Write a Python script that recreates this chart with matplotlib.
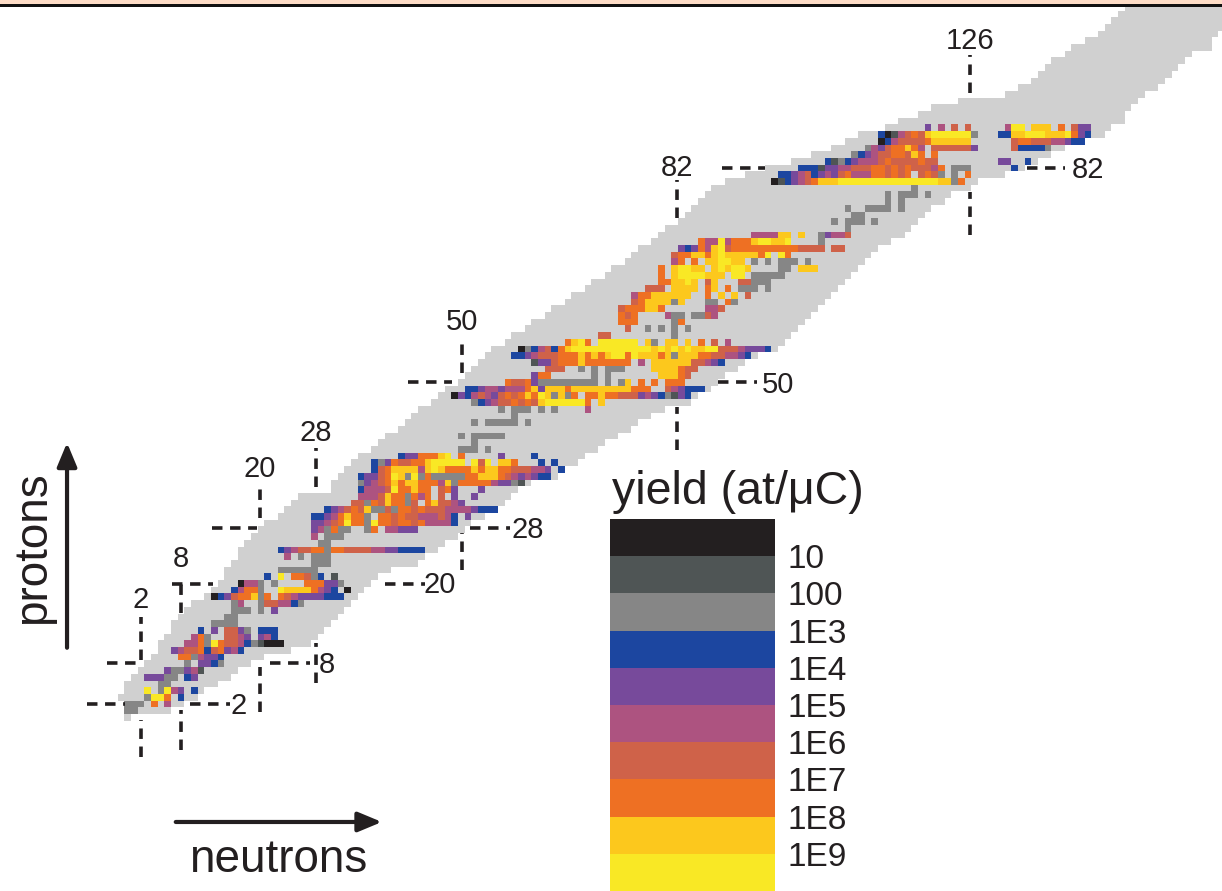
import numpy as np
import matplotlib
matplotlib.use("Agg")
import matplotlib.pyplot as plt
from matplotlib.colors import ListedColormap
from matplotlib.patches import Rectangle

plt.rcParams['font.family'] = ['Liberation Sans', 'DejaVu Sans']

TEXT = '#231f20'
# colour per yield level, code 0 (black) to 9 (yellow)
COLORES = ['#231f20', '#4f5555', '#868686', '#1c46a0', '#774a9b',
           '#ad5380', '#cf6249', '#ee7023', '#fcc81d', '#f9e825']
BANDA = '#d0d0d0'
ETIQUETAS = ['10', '100', '1E3', '1E4', '1E5', '1E6', '1E7', '1E8', '1E9']

# band of known nuclides: first and last neutron number for Z = 0, 1, 2, ...
BANDA_NMIN = [0, 0, 0, -1, 0, 0, 1, 2, 3, 4, 5, 5, 6, 7, 7, 8, 9, 10, 12, 13, 14, 15, 15, 16, 17, 17,
              18, 19, 20, 21, 23, 24, 25, 26, 31, 31, 32, 33, 34, 35, 37, 38, 39, 41, 42, 43, 44, 46,
              47, 48, 50, 51, 52, 53, 54, 55, 57, 58, 60, 61, 63, 64, 66, 67, 69, 70, 72, 73, 75, 76,
              77, 79, 80, 81, 83, 84, 85, 86, 87, 88, 90, 93, 96, 100, 103, 106, 108, 110, 114, 116,
              119, 121, 125, 132, 134, 136, 137, 138, 139, 141, 142, 144, 146, 147, 148, 149, 150]
BANDA_NMAX = [0, 6, 8, 10, 11, 13, 15, 16, 18, 20, 24, 27, 28, 29, 30, 31, 32, 33, 34, 35, 36, 37, 39,
              43, 44, 46, 47, 49, 50, 51, 53, 55, 56, 57, 58, 60, 64, 65, 67, 68, 70, 71, 73, 75, 76,
              78, 80, 84, 85, 87, 88, 89, 91, 92, 94, 97, 98, 99, 100, 101, 102, 103, 104, 105, 106,
              107, 108, 109, 110, 111, 112, 114, 116, 117, 118, 119, 120, 122, 123, 126, 127, 131, 134,
              136, 138, 140, 143, 146, 147, 149, 149, 150, 151, 152, 154, 155, 156, 157, 158, 159, 162,
              162, 163, 165, 165, 165, 165]

# measured cells: (Z, first N, level codes per cell, '.' = nothing)
CELDAS = [
    (88, 120, "4.5.6.6"), (88, 132, "599.888.7.644"),
    (87, 113, "301567689999992"), (87, 131, "33889998889743"),
    (86, 113, "03566667888888"), (86, 133, "67766655433"),
    (85, 111, "254677875.6666664"), (85, 133, "633332"),
    (84, 109, "23456677687.7"),
    (83, 105, "31234555676666766"), (83, 131, "44..3"),
    (82, 101, "3331445566677676766657.222"), (82, 133, "3"),
    (81, 98, "33456345467555776767.6762.2.7"),
    (80, 97, "01345678889999999999999998827"),
    (79, 118, "2"), (78, 114, "2.222.2"), (77, 114, "2.2"), (76, 108, "2..2222.2"),
    (75, 109, "22"), (74, 106, "2.222.2"), (73, 108, "2"),
    (72, 94, "555588.8..24556"),
    (71, 86, "75595777899889....2"),
    (70, 83, "434758967777777777" + "6666.66"),
    (69, 82, "677887898888879.97"),
    (68, 82, "57.7.889988.2.2.222.2"),
    (67, 80, "7.89988.898998....22.888"),
    (66, 80, "7.89999888.99.22222"),
    (65, 80, "778898.68...66222"),
    (64, 78, "666.8888.78.7.222.2"),
    (63, 76, "577888888..7.8.8.6"),
    (62, 76, "67888828...22.72"),
    (61, 74, "6777887......556"),
    (60, 74, "767....522.2265"),
    (59, 74, "777.....27"),
    (58, 75, "6"), (58, 78, "2.2.2.2"),
    (57, 71, "66"), (57, 82, "2"),
    (56, 66, "7897.999999.82.88.8.7.6.5"),
    (55, 59, "02356378" + "999999999999" + "8989898899" + "66654443"),
    (54, 58, "334566677787878997988878288877665543"),
    (53, 61, "144677787777777.5.88888866543"),
    (52, 63, "666..2.2.222....8888766"),
    (51, 61, "477......2.2.......88876"),
    (50, 57, "76674" + "222222222" + ".2.28.7.7.777"),
    (49, 51, "3345545557848887888888888777..654333"),
    (48, 49, "0435654" + "6767" + "87982827" + "." + "77877" + "666" + "45432" + "143"),
    (47, 52, "2345667676" + "8" + "999999" + "7.8"),
    (46, 56, "2.222.2.2....5"),
    (45, 58, "2"), (44, 52, "2.22222.2"), (42, 50, "2.22222"), (41, 52, "2"), (40, 50, "222.2"),
    (39, 41, "34477789.7"), (39, 56, "4"), (39, 61, "3"),
    (38, 37, "32476677899999.969.887...3.3"),
    (37, 37, "367888858987777878877666554.3"),
    (36, 35, "34467982927" + "22222" + "7788876545433"),
    (35, 35, "2456787887775" + "82" + "77777" + "54421"),
    (34, 35, "35556977877.674...4"),
    (33, 35, "55568772757.6.4..4"),
    (32, 34, "6627687726.786654"),
    (31, 30, "34567682262776766655554333"),
    (30, 28, "334578772.776766555653.4"),
    (29, 28, "4456797729" + "7767767" + "5555" + "3"),
    (28, 28, "452722..27.55444"),
    (27, 28, "5.222"), (26, 29, "22"),
    (25, 23, "3456677277666655443333"),
    (24, 24, "5.2.222"), (23, 28, "222"), (22, 23, "222222"),
    (21, 21, "3.9.77623.1"),
    (20, 17, "0552.2....777442"),
    (19, 16, "35772..988887543.0"),
    (18, 13, "034677827.7654444333"),
    (17, 16, "25..2665532"),
    (16, 16, "222.2.4"), (15, 15, "22"), (14, 13, "2222"),
    (13, 11, "3.4.6642.333"),
    (12, 10, "572..6654.453"),
    (11, 9, "557297665321000"),
    (10, 7, "45667367453"),
    (9, 8, "7725443"), (8, 9, "2.4432"), (7, 6, "422451"), (6, 3, "44422.34"),
    (5, 5, "22"), (4, 3, "9.2954.3"), (3, 3, "2997.3"), (2, 0, "222.7.5"), (1, 0, "22"),
]

# magic neutron lines: N, Z of upper dash, Z of lower dash, Z of label
MAGICOS_N = [
    (2.0, (8.6, 15), (-5.9, -0.4), 17.5, '2'),
    (8.0, (15.6, 21), (-4.9, 1.1), 23.6, '8'),
    (19.85, (29.8, 35.1), (0.8, 7.5), 37.1, '20'),
    (28.2, (34.4, 40.2), (5.1, 11.1), 42.4, '28'),
    (50.1, (51.4, 56.8), (22, 27.5), 59.0, '50'),
    (82.3, (74.5, 80.2), (39.9, 46.3), 82.0, '82'),
    (126.3, (93.2, 98.9), (72, 78.4), 100.9, '126'),
]
# magic proton lines: Z, N of left dash, N of right dash, Z and N of label
MAGICOS_Z = [
    (2.0, (-6.1, -0.4), (9.3, 15.3), 1.7, 16.7, '2'),
    (8.1, (-3.1, 2.3), (21.3, 27.3), 7.8, 29.9, '8'),
    (19.9, (6.6, 12.8), (38.6, 44.6), 19.7, 46.8, '20'),
    (28.3, (12.6, 19.4), (51.3, 57.3), 28.0, 60.0, '28'),
    (50.1, (42, 48.6), (88.5, 94.3), 49.6, 97.5, '50'),
    (82.0, (89.1, 95.5), (134.8, 140.5), 81.7, 144.0, '82'),
]

W, H = 1222, 891
fig = plt.figure(figsize=(W / 100, H / 100), dpi=100)
ax = fig.add_axes([0, 0, 1, 1])
ax.set_xlim(-19.15, 164.07)
ax.set_ylim(-25.9, 107.07)
ax.axis('off')

# grid with the band (code 10) and the measured cells on top
n_ejes = np.arange(-2, 167)
z_ejes = np.arange(len(BANDA_NMIN))
malla = np.full((len(z_ejes), len(n_ejes)), np.nan)
for z in z_ejes:
    malla[z, BANDA_NMIN[z] + 2:BANDA_NMAX[z] + 3] = 10
for z, n0, codigos in CELDAS:
    for i, c in enumerate(codigos):
        if c != '.':
            malla[z, n0 + i + 2] = int(c)

cmap = ListedColormap(COLORES + [BANDA])
ax.pcolormesh(np.append(n_ejes, 167) - 0.5, np.append(z_ejes, len(z_ejes)) - 0.5, malla,
              cmap=cmap, vmin=-0.5, vmax=10.5, antialiased=False)

raya = dict(color=TEXT, lw=2.6, linestyle=(0, (2.9, 2.1)))
for n, arriba, abajo, z_tx, tx in MAGICOS_N:
    ax.plot([n, n], arriba, **raya)
    ax.plot([n, n], abajo, **raya)
    ax.text(n, z_tx, tx, fontsize=21, color=TEXT, ha='center', va='center')
for z, izq, der, z_tx, n_tx, tx in MAGICOS_Z:
    ax.plot(izq, [z, z], **raya)
    ax.plot(der, [z, z], **raya)
    ax.text(n_tx, z_tx, tx, fontsize=21, color=TEXT, ha='center', va='center')

# axis arrows
flecha = dict(arrowstyle='-|>,head_length=0.72,head_width=0.3', color=TEXT, lw=3.0,
              shrinkA=0, shrinkB=0, mutation_scale=20)
ax.annotate('', xy=(-9.1, 41), xytext=(-9.1, 10.4), arrowprops=flecha)
ax.annotate('', xy=(38.1, -15.6), xytext=(7.2, -15.6), arrowprops=flecha)
ax.text(-14.2, 25.3, 'protons', fontsize=33, color=TEXT, rotation=90, ha='center', va='center')
ax.text(22.5, -21.2, 'neutrons', fontsize=33, color=TEXT, ha='center', va='center')

# colour scale
ax2 = fig.add_axes([610 / W, 0, 165 / W, 372 / H])
ax2.imshow(np.arange(len(COLORES))[:, None], cmap=ListedColormap(COLORES), aspect='auto',
           interpolation='nearest')
ax2.set_xticks([])
ax2.yaxis.tick_right()
ax2.set_yticks(np.arange(len(ETIQUETAS)) + 0.5, ETIQUETAS)
ax2.tick_params(axis='y', length=0, pad=9, labelsize=24, labelcolor=TEXT)
for s in ax2.spines.values():
    s.set_visible(False)
ax2.set_title('yield (at/μC)', fontsize=33.5, color=TEXT, x=0.012, ha='left', pad=11)

# strip along the top of the page
fig.add_artist(Rectangle((0, 1 - 4 / H), 1, 4 / H, transform=fig.transFigure, color='#fddcc6', lw=0))
fig.add_artist(Rectangle((0, 1 - 7 / H), 1, 3 / H, transform=fig.transFigure, color='#111111', lw=0))

fig.savefig('out.png', dpi=100)
